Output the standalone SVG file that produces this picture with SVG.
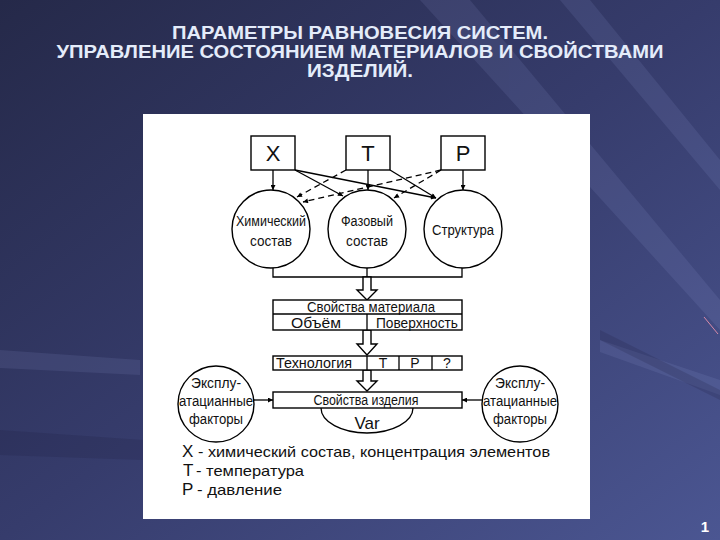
<svg xmlns="http://www.w3.org/2000/svg" width="720" height="540" viewBox="0 0 720 540">
<defs>
<linearGradient id="bg" x1="0" y1="0" x2="1" y2="1">
<stop offset="0" stop-color="#252949"/>
<stop offset="0.5" stop-color="#363c6c"/>
<stop offset="1" stop-color="#4b5692"/>
</linearGradient>
<marker id="ah" viewBox="0 0 10 10" refX="10" refY="5" markerWidth="7" markerHeight="5" markerUnits="userSpaceOnUse" orient="auto">
<path d="M0,0 L10,5 L0,10 z" fill="#000"/>
</marker>
<style>
.ln{stroke:#000;stroke-width:1.3;fill:none}
.dl{stroke:#000;stroke-width:1.3;fill:none;stroke-dasharray:6 4}
.bx{stroke:#000;stroke-width:1.4;fill:#fff}
.t{font-family:"Liberation Sans",Arial,sans-serif;fill:#111;text-anchor:middle}
.s{font-size:14px}
.big{font-size:22px}
.ttl{font-family:"Liberation Sans",Arial,sans-serif;font-weight:bold;font-size:18px;fill:#e4ecfa;text-anchor:middle}
.lg{font-family:"Liberation Sans",Arial,sans-serif;fill:#111}
.lb{font-size:17px}
.ls{font-size:14.5px}
</style>
</defs>
<rect width="720" height="540" fill="url(#bg)"/>
<g opacity="0.12" fill="#9aa6e0">
<polygon points="420,0 470,0 720,300 720,330"/>
<polygon points="560,0 590,0 720,160 720,190"/>
<polygon points="0,350 140,360 140,375 0,368"/>
<polygon points="600,340 720,380 720,395 600,352"/>
</g>
<g opacity="0.2" fill="#1c2040">
<polygon points="0,430 143,440 143,460 0,455"/>
<polygon points="600,330 720,390 720,400 600,340"/>
</g>
<line x1="704" y1="317" x2="718" y2="334" stroke="#d88aa8" stroke-width="1"/>
<text class="ttl" x="360" y="39" textLength="376" lengthAdjust="spacingAndGlyphs">ПАРАМЕТРЫ РАВНОВЕСИЯ СИСТЕМ.</text>
<text class="ttl" x="360" y="58" textLength="607" lengthAdjust="spacingAndGlyphs">УПРАВЛЕНИЕ СОСТОЯНИЕМ МАТЕРИАЛОВ И СВОЙСТВАМИ</text>
<text class="ttl" x="360" y="77" textLength="106" lengthAdjust="spacingAndGlyphs">ИЗДЕЛИЙ.</text>
<text x="705" y="532" font-family="Liberation Sans,Arial,sans-serif" font-weight="bold" font-size="15" fill="#fff" text-anchor="middle">1</text>
<rect x="143" y="114" width="447" height="405" fill="#fff"/>
<g id="connectors">
<line class="ln" x1="273" y1="170" x2="273" y2="190" marker-end="url(#ah)"/>
<line class="ln" x1="368" y1="170" x2="368" y2="190" marker-end="url(#ah)"/>
<line class="ln" x1="463" y1="170" x2="463" y2="190" marker-end="url(#ah)"/>
<line class="ln" x1="295" y1="170" x2="343" y2="196" marker-end="url(#ah)"/>
<line class="ln" x1="295" y1="170" x2="436" y2="198" marker-end="url(#ah)"/>
<line class="ln" x1="390" y1="170" x2="436" y2="198" marker-end="url(#ah)"/>
<line class="dl" x1="346" y1="170" x2="297" y2="197" marker-end="url(#ah)"/>
<line class="dl" x1="441" y1="170" x2="303" y2="202" marker-end="url(#ah)"/>
<line class="dl" x1="441" y1="170" x2="394" y2="198" marker-end="url(#ah)"/>
<path class="ln" d="M273,268 V277 H462 V268 M367,268 V277"/>
<path class="bx" d="M363,277 V290 H357 L367,300 L377,290 H371 V277 Z"/>
<path class="bx" d="M363,330 V344 H357 L367,355 L377,344 H371 V330 Z"/>
<path class="bx" d="M363,370 V381 H357 L367,391 L377,381 H371 V370 Z"/>
<line class="ln" x1="254" y1="400" x2="273" y2="400" marker-end="url(#ah)"/>
<line class="ln" x1="482" y1="400" x2="462" y2="400" marker-end="url(#ah)"/>
</g>
<g id="nX"><rect class="bx" x="251" y="136" width="44" height="34"/><text class="t big" x="273" y="161">X</text></g>
<g id="nT"><rect class="bx" x="346" y="136" width="44" height="34"/><text class="t big" x="368" y="161">T</text></g>
<g id="nP"><rect class="bx" x="441" y="136" width="44" height="34"/><text class="t big" x="463" y="161">P</text></g>
<g id="nChem"><circle class="bx" cx="271" cy="229" r="39"/><text class="t s" x="271" y="226" textLength="70" lengthAdjust="spacingAndGlyphs">Химический</text><text class="t s" x="271" y="246" textLength="42" lengthAdjust="spacingAndGlyphs">состав</text></g>
<g id="nPhase"><circle class="bx" cx="367" cy="229" r="39"/><text class="t s" x="367" y="226" textLength="52" lengthAdjust="spacingAndGlyphs">Фазовый</text><text class="t s" x="367" y="246" textLength="42" lengthAdjust="spacingAndGlyphs">состав</text></g>
<g id="nStruct"><circle class="bx" cx="463" cy="229" r="39"/><text class="t s" x="463" y="235" textLength="62" lengthAdjust="spacingAndGlyphs">Структура</text></g>
<g id="nMat">
<rect class="bx" x="273" y="300" width="189" height="30"/>
<line class="ln" x1="273" y1="314" x2="462" y2="314"/>
<line class="ln" x1="367" y1="314" x2="367" y2="330"/>
<text class="t s" x="371" y="312" textLength="128" lengthAdjust="spacingAndGlyphs">Свойства  материала</text>
<text class="t s" x="316" y="328" textLength="50" lengthAdjust="spacingAndGlyphs">Объём</text>
<text class="t s" x="417" y="328" textLength="82" lengthAdjust="spacingAndGlyphs">Поверхность</text>
</g>
<g id="nTech">
<rect class="bx" x="273" y="356" width="189" height="14"/>
<line class="ln" x1="367" y1="356" x2="367" y2="370"/>
<line class="ln" x1="399" y1="356" x2="399" y2="370"/>
<line class="ln" x1="432" y1="356" x2="432" y2="370"/>
<text class="t s" x="314" y="368" textLength="76" lengthAdjust="spacingAndGlyphs">Технология</text>
<text class="t s" x="383" y="368">T</text>
<text class="t s" x="415" y="368">P</text>
<text class="t s" x="447" y="368">?</text>
</g>
<g id="nProd">
<path class="ln" d="M321,408 A46,25 0 0 0 413,408"/>
<rect class="bx" x="273" y="392" width="189" height="16"/>
<text class="t s" x="366" y="405" textLength="105" lengthAdjust="spacingAndGlyphs">Свойства  изделия</text>
<text class="t" font-size="17" x="367" y="429">Var</text>
</g>
<g id="nExpL"><circle class="bx" cx="216" cy="404" r="38"/><text class="t s" x="216" y="388" textLength="50" lengthAdjust="spacingAndGlyphs">Эксплу-</text><text class="t s" x="216" y="406" textLength="74" lengthAdjust="spacingAndGlyphs">атацианные</text><text class="t s" x="216" y="424" textLength="54" lengthAdjust="spacingAndGlyphs">факторы</text></g>
<g id="nExpR"><circle class="bx" cx="520" cy="404" r="38"/><text class="t s" x="520" y="388" textLength="50" lengthAdjust="spacingAndGlyphs">Эксплу-</text><text class="t s" x="520" y="406" textLength="74" lengthAdjust="spacingAndGlyphs">атацианные</text><text class="t s" x="520" y="424" textLength="54" lengthAdjust="spacingAndGlyphs">факторы</text></g>
<g id="legend">
<text class="lg lb" x="182" y="457">X</text>
<text class="lg ls" x="198" y="457" textLength="352" lengthAdjust="spacingAndGlyphs">- химический состав, концентрация элементов</text>
<text class="lg lb" x="183" y="476">T</text>
<text class="lg ls" x="196" y="476" textLength="108" lengthAdjust="spacingAndGlyphs">- температура</text>
<text class="lg lb" x="182" y="495">P</text>
<text class="lg ls" x="197" y="495" textLength="85" lengthAdjust="spacingAndGlyphs">- давление</text>
</g>
</svg>
